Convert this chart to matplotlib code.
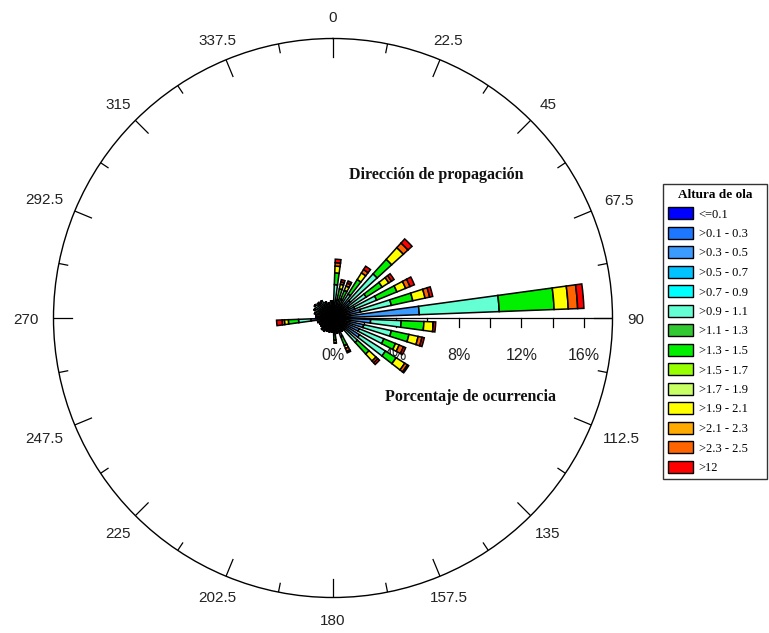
import numpy as np
import matplotlib.pyplot as plt
from matplotlib.patches import Patch
from matplotlib.transforms import ScaledTranslation

# direction of each bar (deg, clockwise from north), 10 deg sectors
directions = list(range(5, 360, 10))

# segment length (% of occurrence) of each wave-height class per direction
#            5    15    25    35   45   55   65   75   85   95   105  115  125  135  145  155  165  175
h_01_03 = [0.3, 0.2, 0.25, 0.3, 0.4, 0.3, 0.4, 0.4, 0.5, 0.4, 0.4, 0.4, 0.4, 0.3, 0.3, 0.3, 0.3, 0.2,
           0.3, 0.3, 0.3, 0.3, 0.3, 0.3, 0.3, 0.3, 0.4, 0.3, 0.3, 0.4, 0.4, 0.4, 0.4, 0.3, 0.3, 0.3]
h_03_05 = [0.3, 0.2, 0.25, 0.5, 1.1, 0.9, 1.1, 1.4, 5.0, 2.0, 1.6, 1.4, 1.6, 0.7, 0.3, 0.3, 0.3, 0.2,
           0.3, 0.3, 0.3, 0.3, 0.3, 0.3, 0.3, 0.3, 1.0, 0.4, 0.4, 0.4, 0.5, 0.4, 0.4, 0.4, 0.3, 0.4]
h_09_11 = [1.53, 0.8, 0.8, 1.0, 2.3, 1.3, 1.5, 2.0, 5.1, 1.95, 1.8, 1.7, 1.95, 1.1, 0.4, 0.7, 0.4, 0.5,
           0.3, 0.3, 0.3, 0.4, 0.4, 0.3, 0.3, 0.4, 0.8, 0.4, 0.5, 0.5, 0.5, 0.4, 0.5, 0.4, 0.4, 0.4]
h_13_15 = [0.75, 0.7, 0.6, 1.1, 1.25, 1.2, 1.4, 1.4, 3.5, 1.45, 1.15, 0.8, 0.8, 1.0, 0, 0.6, 0, 0.5,
           0, 0, 0, 0, 0, 0, 0, 0, 0.65, 0, 0, 0, 0, 0, 0, 0, 0, 0]
h_19_21 = [0.43, 0.3, 0.3, 0.5, 1.0, 0.5, 0.6, 0.8, 0.9, 0.6, 0.6, 0.25, 0.65, 0.6, 0, 0.2, 0, 0.2,
           0, 0, 0, 0, 0, 0, 0, 0, 0.25, 0, 0, 0, 0, 0, 0, 0, 0, 0]
h_23_25 = [0.22, 0.15, 0.2, 0.25, 0.4, 0.2, 0.3, 0.3, 0.6, 0, 0.25, 0.3, 0.2, 0.15, 0, 0.2, 0, 0,
           0, 0, 0, 0, 0, 0, 0, 0, 0.15, 0, 0, 0, 0, 0, 0, 0, 0, 0]
h_gt12 = [0.22, 0.15, 0.15, 0.25, 0.35, 0.2, 0.3, 0.2, 0.4, 0.15, 0.15, 0.15, 0.1, 0.15, 0, 0.1, 0, 0,
          0, 0, 0, 0, 0, 0, 0, 0, 0.35, 0, 0, 0, 0, 0.15, 0, 0, 0, 0]

classes = ['<=0.1', '>0.1 - 0.3', '>0.3 - 0.5', '>0.5 - 0.7', '>0.7 - 0.9', '>0.9 - 1.1',
           '>1.1 - 1.3', '>1.3 - 1.5', '>1.5 - 1.7', '>1.7 - 1.9', '>1.9 - 2.1',
           '>2.1 - 2.3', '>2.3 - 2.5', '>12']
colors = ['#0000FF', '#1E78FF', '#3C9BFF', '#00C3FF', '#00FFFF', '#64FFD2',
          '#32C832', '#00F000', '#96FF00', '#C8FF64', '#FFFF00',
          '#FFAA00', '#FF6400', '#FF0000']

stack = [(h_01_03, colors[1]), (h_03_05, colors[2]), (h_09_11, colors[5]),
         (h_13_15, colors[7]), (h_19_21, colors[10]), (h_23_25, colors[12]),
         (h_gt12, colors[13])]

dir_ticks = np.arange(0, 360, 22.5)
r_ticks = [0, 4, 8, 12, 16]
rmax = 17.81

fig = plt.figure(figsize=(7.69, 6.33), dpi=100)
rect = [0.06957, 0.05608, 0.72692, 0.88310]

# cartesian overlay (below the bars) for the radial scale and titles
cax = fig.add_axes(rect, zorder=0)
cax.set_xlim(-rmax, rmax)
cax.set_ylim(-rmax, rmax)
cax.axis('off')
cax.plot([0, rmax], [0, 0], color='black', lw=0.9)
for t in np.arange(2, 17, 2):
    cax.plot([t, t], [0, -0.6], color='black', lw=0.9)
for t in r_ticks:
    cax.text(t, -2.4, '%d%%' % t, ha='center', va='center', fontsize=11.5,
             family='Liberation Sans', color='#222222')
cax.text(6.6, 9.11, 'Dirección de propagación', ha='center', va='center',
         fontsize=11.5, family='Liberation Serif', fontweight='bold', color='#111111')
cax.text(8.73, -5.03, 'Porcentaje de ocurrencia', ha='center', va='center',
         fontsize=11.5, family='Liberation Serif', fontweight='bold', color='#111111')

ax = fig.add_axes(rect, projection='polar', zorder=1)
ax.patch.set_alpha(0)
ax.set_theta_zero_location('N')
ax.set_theta_direction(-1)
ax.set_ylim(0, rmax)
ax.grid(False)
ax.set_xticks([])
ax.set_yticks([])
ax.spines['polar'].set_linewidth(1.0)

theta = np.deg2rad(directions)
width = np.deg2rad(5.6)
bottom = np.zeros(len(directions))
for vals, c in stack:
    vals = np.array(vals, dtype=float)
    ax.bar(theta, vals, width=width, bottom=bottom, color=c,
           edgecolor='black', linewidth=1.1)
    bottom = bottom + vals

# ticks on the outer circle
for d in np.arange(0, 360, 11.25):
    L = 1.15 if d % 22.5 == 0 else 0.57
    ax.plot([np.deg2rad(d)] * 2, [rmax, rmax - L], color='black', lw=0.9)

# direction labels, kept a fixed gap outside the circle
fig.canvas.draw()
renderer = fig.canvas.get_renderer()
gap = 14.5
for d in dir_ticks:
    txt = ax.text(np.deg2rad(d), rmax, '%g' % d, ha='center', va='center',
                  fontsize=11, family='Liberation Sans', color='#222222')
    bb = txt.get_window_extent(renderer)
    s, c = np.sin(np.deg2rad(d)), np.cos(np.deg2rad(d))
    ext = min(bb.width / 2 / abs(s) if abs(s) > 1e-6 else np.inf,
              bb.height / 2 / abs(c) if abs(c) > 1e-6 else np.inf)
    dist = gap + ext
    txt.set_transform(ax.transData + ScaledTranslation(dist * s / fig.dpi,
                                                       (dist * c - 1.5) / fig.dpi,
                                                       fig.dpi_scale_trans))

handles = [Patch(facecolor=c, edgecolor='black', linewidth=1) for c in colors]
leg = fig.legend(handles, classes, loc='upper left', mode='expand',
                 bbox_to_anchor=(663 / 769, 1 - 478 / 633, 104 / 769, 294 / 633),
                 title='Altura de ola', frameon=True, fancybox=False,
                 handlelength=2.0, handleheight=1.1, labelspacing=0.5,
                 handletextpad=0.45, borderpad=0.4, borderaxespad=0,
                 prop={'family': 'Liberation Serif', 'size': 9},
                 title_fontproperties={'family': 'Liberation Serif', 'weight': 'bold',
                                       'size': 9.5})
leg.get_frame().set_edgecolor('black')
leg.get_frame().set_linewidth(1)

fig.savefig('out.png', dpi=100)
